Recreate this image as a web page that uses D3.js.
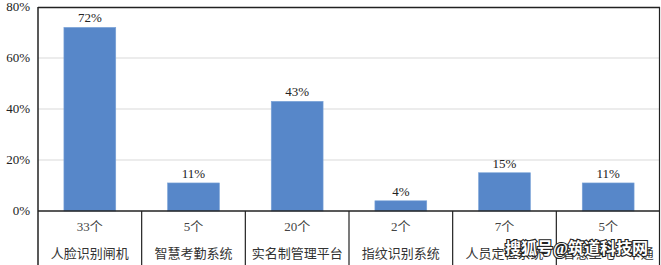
<!DOCTYPE html>
<html>
<head>
<meta charset="utf-8">
<script src="https://cdn.jsdelivr.net/npm/d3@7"></script>
<style>
  body { margin: 0; background: #fff; }
  text { font-family: "Liberation Serif", "Noto Sans CJK SC", serif; }
</style>
</head>
<body>
<svg width="661" height="265"></svg>
<script>
// Data
const categories = ["人脸识别闸机", "智慧考勤系统", "实名制管理平台", "指纹识别系统", "人员定位系统", "智慧工地一卡通"];
const counts = ["33个", "5个", "20个", "2个", "7个", "5个"];
const percents = [72, 11, 43, 4, 15, 11];
const yTicks = [0, 20, 40, 60, 80];

const svg = d3.select("svg");
const margin = { top: 7, right: 1, bottom: 54, left: 38 };
const width = +svg.attr("width") - margin.left - margin.right;
const height = +svg.attr("height") - margin.top - margin.bottom;

const g = svg.append("g").attr("transform", `translate(${margin.left},${margin.top})`);

const x = d3.scaleBand().domain(categories).range([0, width]).paddingInner(0).paddingOuter(0);
const y = d3.scaleLinear().domain([0, 80]).range([height, 0]);

// Gridlines
g.selectAll(".grid").data(yTicks.slice(1, -1)).enter().append("line")
  .attr("x1", 0).attr("x2", width)
  .attr("y1", d => y(d)).attr("y2", d => y(d))
  .attr("stroke", "#d9d9d9").attr("stroke-width", 1);

// Bars (half band width, centered)
const bw = x.bandwidth() * 0.5;
g.selectAll(".bar").data(percents).enter().append("rect")
  .attr("class", "bar")
  .attr("x", (d, i) => x(categories[i]) + (x.bandwidth() - bw) / 2)
  .attr("y", d => y(d))
  .attr("width", bw)
  .attr("height", d => height - y(d))
  .attr("fill", "#5787c9")
  .attr("stroke", "#7aa3d8").attr("stroke-width", 0.6);

// Value labels
g.selectAll(".val").data(percents).enter().append("text")
  .attr("x", (d, i) => x(categories[i]) + x.bandwidth() / 2)
  .attr("y", d => y(d) - 5)
  .attr("text-anchor", "middle")
  .attr("font-size", 13)
  .attr("fill", "#222")
  .text(d => d + "%");

// Y axis labels
g.selectAll(".ytick").data(yTicks).enter().append("text")
  .attr("x", -8)
  .attr("y", d => y(d) + 4)
  .attr("text-anchor", "end")
  .attr("font-size", 13)
  .attr("fill", "#222")
  .text(d => d + "%");

// Frame: top, right, left axis, baseline
g.append("line").attr("x1", 0).attr("x2", width).attr("y1", 0.5).attr("y2", 0.5).attr("stroke", "#222").attr("stroke-width", 1.5);
g.append("line").attr("x1", width - 0.5).attr("x2", width - 0.5).attr("y1", 0).attr("y2", height + margin.bottom).attr("stroke", "#222").attr("stroke-width", 1.2);
g.append("line").attr("x1", 0).attr("x2", 0).attr("y1", 0).attr("y2", height + margin.bottom).attr("stroke", "#222").attr("stroke-width", 1.5);
g.append("line").attr("x1", 0).attr("x2", width).attr("y1", height).attr("y2", height).attr("stroke", "#222").attr("stroke-width", 1.5);

// Category table separators
g.selectAll(".sep").data(categories.slice(1)).enter().append("line")
  .attr("x1", d => x(d)).attr("x2", d => x(d))
  .attr("y1", height).attr("y2", height + margin.bottom)
  .attr("stroke", "#222").attr("stroke-width", 1.2);

// Count row and category row
g.selectAll(".cnt").data(counts).enter().append("text")
  .attr("x", (d, i) => x(categories[i]) + x.bandwidth() / 2)
  .attr("y", height + 20)
  .attr("text-anchor", "middle")
  .attr("font-size", 13)
  .attr("fill", "#444")
  .text(d => d);

g.selectAll(".cat").data(categories).enter().append("text")
  .attr("x", d => x(d) + x.bandwidth() / 2)
  .attr("y", height + 47)
  .attr("text-anchor", "middle")
  .attr("font-size", 13)
  .attr("fill", "#333")
  .text(d => d);

// Watermark
svg.append("text")
  .attr("x", 505).attr("y", 254)
  .attr("font-family", "Noto Sans CJK SC")
  .attr("font-size", 16).attr("font-weight", "bold")
  .attr("fill", "#fff").attr("stroke", "#222").attr("stroke-width", 2.2)
  .attr("paint-order", "stroke")
  .text("搜狐号@筑道科技网");
</script>
</body>
</html>
